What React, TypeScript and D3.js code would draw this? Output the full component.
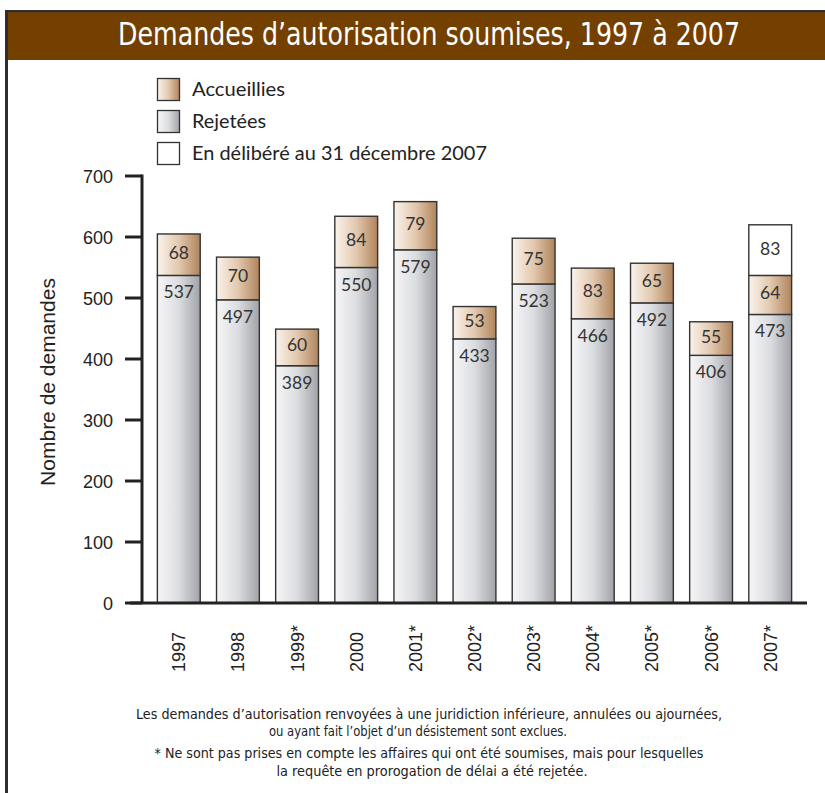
import React from "react";
import * as d3 from "d3";

const years = ["1997", "1998", "1999*", "2000", "2001*", "2002*", "2003*", "2004*", "2005*", "2006*", "2007*"];
const rejetees = [537, 497, 389, 550, 579, 433, 523, 466, 492, 406, 473];
const accueillies = [68, 70, 60, 84, 79, 53, 75, 83, 65, 55, 64];
const deliberes = [0, 0, 0, 0, 0, 0, 0, 0, 0, 0, 83];
const yTicks = [0, 100, 200, 300, 400, 500, 600, 700];
const legendLabels = ["Accueillies", "Rejetées", "En délibéré au 31 décembre 2007"];
const title = "Demandes d\u2019autorisation soumises, 1997 à 2007";
const yTitle = "Nombre de demandes";
const notes = [
  "Les demandes d\u2019autorisation renvoyées à une juridiction inférieure, annulées ou ajournées,",
  "ou ayant fait l\u2019objet d\u2019un désistement sont exclues.",
  "* Ne sont pas prises en compte les affaires qui ont été soumises, mais pour lesquelles",
  "la requête en prorogation de délai a été rejetée.",
];

const W = 825;
const H = 793;
const condensed = "'Liberation Sans Narrow', 'DejaVu Sans Condensed', Lato, 'Open Sans', sans-serif";
const human = "Lato, 'Open Sans', 'Noto Sans', sans-serif";
const helv = "'Liberation Sans', Arial, Helvetica, sans-serif";

export default function App() {
  const x = d3.scaleBand<string>().domain(years).range([142, 807]).paddingInner(0.276).paddingOuter(0.26);
  const y = d3.scaleLinear().domain([0, 700]).range([603, 176]);
  const bw = x.bandwidth();

  const legendFills = ["url(#gAcc)", "url(#gRej)", "#fff"];
  const legendLens = [93, 74, 295];
  const noteX = [429, 418, 429, 432];
  const noteY = [719, 736, 758, 776];
  const noteLens = [586, 298, 549, 311];

  return (
    <svg width={W} height={H} style={{ position: "absolute", left: 0, top: 0, background: "#fff" }}>
      <defs>
        <linearGradient id="gAcc" x1="0" x2="1" y1="0" y2="0">
          <stop offset="0" stopColor="#faf3ec" />
          <stop offset="0.5" stopColor="#e2c8ae" />
          <stop offset="1" stopColor="#b0845c" />
        </linearGradient>
        <linearGradient id="gRej" x1="0" x2="1" y1="0" y2="0">
          <stop offset="0" stopColor="#f6f6f8" />
          <stop offset="0.5" stopColor="#dcdde0" />
          <stop offset="1" stopColor="#a2a3a8" />
        </linearGradient>
      </defs>

      {/* frame and title bar */}
      <rect x={5} y={12} width={W} height={48} fill="#744000" />
      <rect x={5} y={10} width={W} height={2.2} fill="#2e2e2e" />
      <rect x={5} y={10} width={3} height={H} fill="#2e2e2e" />
      <text
        x={429}
        y={45}
        textAnchor="middle"
        fill="#fff"
        fontFamily={condensed}
        fontSize={32}
        textLength={622}
        lengthAdjust="spacingAndGlyphs"
      >
        {title}
      </text>

      {/* legend */}
      {legendLabels.map((lab, i) => (
        <g key={lab} transform={`translate(0, ${78 + i * 32})`}>
          <rect x={157.5} y={0.5} width={22} height={22} fill={legendFills[i]} stroke="#333" strokeWidth={1.3} />
          <text
            x={192}
            y={18}
            fontFamily={human}
            fontSize={19}
            fill="#222"
            textLength={legendLens[i]}
            lengthAdjust="spacingAndGlyphs"
          >
            {lab}
          </text>
        </g>
      ))}

      {/* bars */}
      {years.map((yr, i) => {
        const x0 = x(yr)!;
        const r = rejetees[i];
        const a = accueillies[i];
        const d = deliberes[i];
        const yR = y(r);
        const yA = y(r + a);
        const yD = y(r + a + d);
        return (
          <g key={yr}>
            <rect x={x0} y={yR} width={bw} height={y(0) - yR} fill="url(#gRej)" stroke="#333" strokeWidth={1.4} />
            <rect x={x0} y={yA} width={bw} height={yR - yA} fill="url(#gAcc)" stroke="#333" strokeWidth={1.4} />
            {d > 0 && (
              <rect x={x0} y={yD} width={bw} height={yA - yD} fill="#fff" stroke="#333" strokeWidth={1.4} />
            )}
            <text x={x0 + bw / 2} y={yR + 23} textAnchor="middle" fontFamily={human} fontSize={17.5} fill="#333">
              {r}
            </text>
            <text x={x0 + bw / 2} y={(yR + yA) / 2 + 4} textAnchor="middle" fontFamily={human} fontSize={17.5} fill="#333">
              {a}
            </text>
            {d > 0 && (
              <text x={x0 + bw / 2} y={(yA + yD) / 2 + 5} textAnchor="middle" fontFamily={human} fontSize={17.5} fill="#333">
                {d}
              </text>
            )}
            <text
              transform={`translate(${x0 + bw / 2 + 6.5}, 672) rotate(-90)`}
              textAnchor="start"
              fontFamily={helv}
              fontSize={18}
              fill="#222"
            >
              {yr}
            </text>
          </g>
        );
      })}

      {/* y axis */}
      <line x1={142} x2={142} y1={y(700) - 1.5} y2={y(0)} stroke="#222" strokeWidth={3} />
      {yTicks.map((t) => (
        <g key={t}>
          <line x1={125} x2={142} y1={y(t)} y2={y(t)} stroke="#222" strokeWidth={3} />
          <text x={113} y={y(t) + 6.5} textAnchor="end" fontFamily={helv} fontSize={18} fill="#222">
            {t}
          </text>
        </g>
      ))}
      <line x1={130} x2={807} y1={y(0)} y2={y(0)} stroke="#222" strokeWidth={3} />
      <text
        transform={`translate(55, 382) rotate(-90)`}
        textAnchor="middle"
        fontFamily={helv}
        fontSize={21}
        fill="#222"
      >
        {yTitle}
      </text>

      {/* notes */}
      {notes.map((n, i) => (
        <text
          key={i}
          x={noteX[i]}
          y={noteY[i]}
          textAnchor="middle"
          fontFamily={condensed}
          fontSize={14}
          fill="#222"
          textLength={noteLens[i]}
          lengthAdjust="spacingAndGlyphs"
        >
          {n}
        </text>
      ))}
    </svg>
  );
}
